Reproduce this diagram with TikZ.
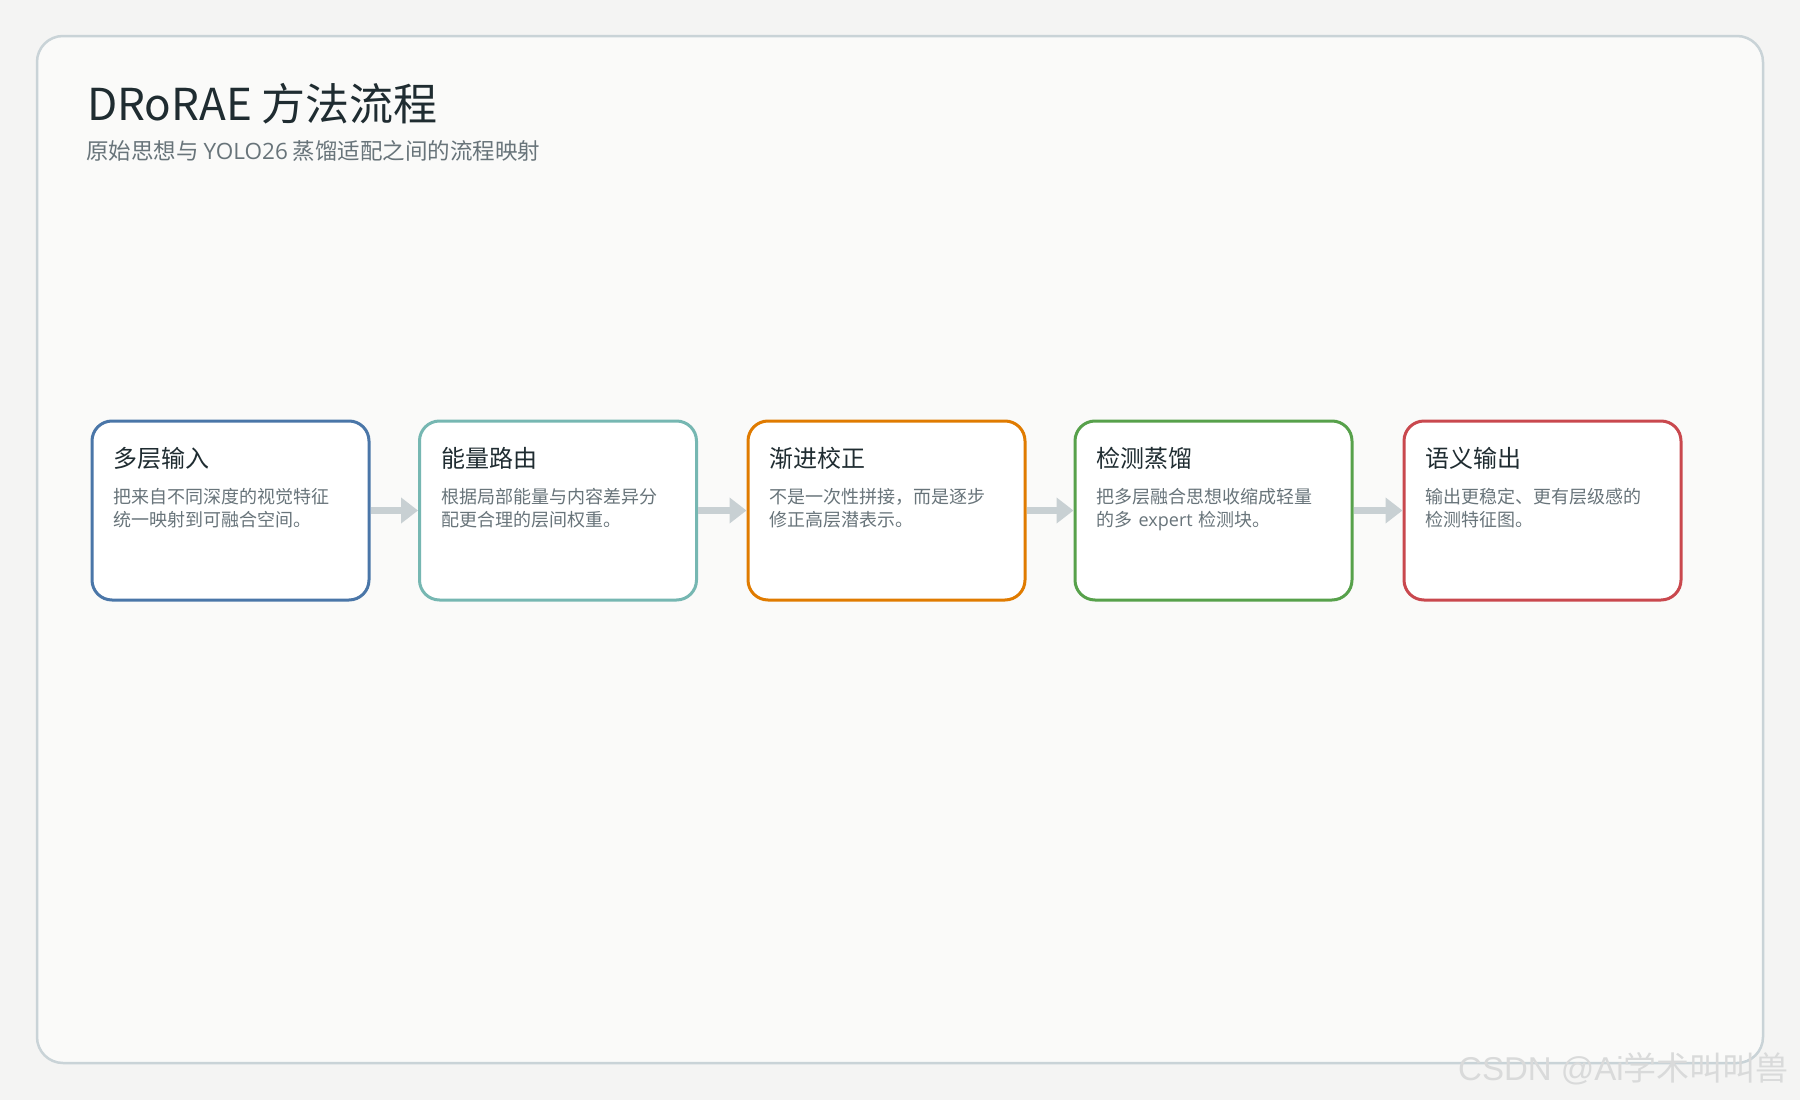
\documentclass[tikz,border=0pt]{standalone}
\usepackage{fontspec}
\setmainfont{Noto Sans CJK SC}
\newfontfamily\latinmark{Liberation Sans}
\newfontfamily\latinui{Open Sans}
\usetikzlibrary{arrows.meta,calc}

\definecolor{pagebg}{HTML}{F4F4F3}
\definecolor{panelbg}{HTML}{FAFAF9}
\definecolor{framegray}{HTML}{C9D3D7}
\definecolor{inkdark}{HTML}{1F2C31}
\definecolor{inkgray}{HTML}{68747A}
\definecolor{flowgray}{HTML}{C8D0D3}
\definecolor{markgray}{HTML}{D9DADA}
\definecolor{stageblue}{HTML}{4A76A8}
\definecolor{stageteal}{HTML}{76B7B2}
\definecolor{stageorange}{HTML}{E07B00}
\definecolor{stagegreen}{HTML}{57A14B}
\definecolor{stagered}{HTML}{C9484E}

\begin{document}
\begin{tikzpicture}[x=1pt, y=-1pt,
    stage/.style={draw, line width=3pt, fill=white, rounded corners=20pt,
      minimum width=277pt, minimum height=179pt, inner sep=0pt},
    stagetitle/.style={anchor=base west, inner sep=0pt, text=inkdark,
      font=\fontsize{24}{28}\selectfont},
    stagetext/.style={anchor=base west, inner sep=0pt, text=inkgray, text width=250pt,
      align=left, font=\fontsize{18}{23}\selectfont},
    flow/.style={draw=flowgray, line width=6.5pt, -{Triangle[length=17pt,width=25pt]}}]
  \useasboundingbox[fill=pagebg] (0,0) rectangle (1800,1100);
  % panel
  \draw[draw=framegray, line width=2.5pt, fill=panelbg, rounded corners=26pt] (37,36) rectangle (1763,1063);
  \node[anchor=base west, inner sep=0pt, text=inkdark, font=\fontsize{44}{50}\selectfont] (heading) at (87,120) {DRoRAE 方法流程};
  \node[anchor=base west, inner sep=0pt, text=inkgray, font=\fontsize{22.5}{26}\selectfont] (subheading) at (86,159) {原始思想与 {\latinui YOLO26} 蒸馏适配之间的流程映射};

  % stages
  \node[stage, draw=stageblue] (b1) at (230.5,510.5) {};
  \node[stage, draw=stageteal] (b2) at (558,510.5) {};
  \node[stage, draw=stageorange] (b3) at (886.5,510.5) {};
  \node[stage, draw=stagegreen] (b4) at (1213.5,510.5) {};
  \node[stage, draw=stagered] (b5) at (1542.5,510.5) {};

  \node[stagetitle] (t1) at ($(b1.north west)+(23,48)$) {多层输入};
  \node[stagetext] (d1) at ($(b1.north west)+(23,84)$) {把来自不同深度的视觉特征\\统一映射到可融合空间。};
  \node[stagetitle] (t2) at ($(b2.north west)+(23,48)$) {能量路由};
  \node[stagetext] (d2) at ($(b2.north west)+(23,84)$) {根据局部能量与内容差异分\\配更合理的层间权重。};
  \node[stagetitle] (t3) at ($(b3.north west)+(23,48)$) {渐进校正};
  \node[stagetext] (d3) at ($(b3.north west)+(23,84)$) {不是一次性拼接，而是逐步\\修正高层潜表示。};
  \node[stagetitle] (t4) at ($(b4.north west)+(23,48)$) {检测蒸馏};
  \node[stagetext] (d4) at ($(b4.north west)+(23,84)$) {把多层融合思想收缩成轻量\\的多 {\latinui expert} 检测块。};
  \node[stagetitle] (t5) at ($(b5.north west)+(23,48)$) {语义输出};
  \node[stagetext] (d5) at ($(b5.north west)+(23,84)$) {输出更稳定、更有层级感的\\检测特征图。};

  \draw[flow] (b1) -- (b2);
  \draw[flow] (b2) -- (b3);
  \draw[flow] (b3) -- (b4);
  \draw[flow] (b4) -- (b5);

  \node[anchor=base west, inner sep=0pt, text=markgray, font=\fontsize{33}{36}\selectfont] (mark) at (1458,1080) {{\latinmark CSDN @Ai}学术叫叫兽};
\end{tikzpicture}
\end{document}
